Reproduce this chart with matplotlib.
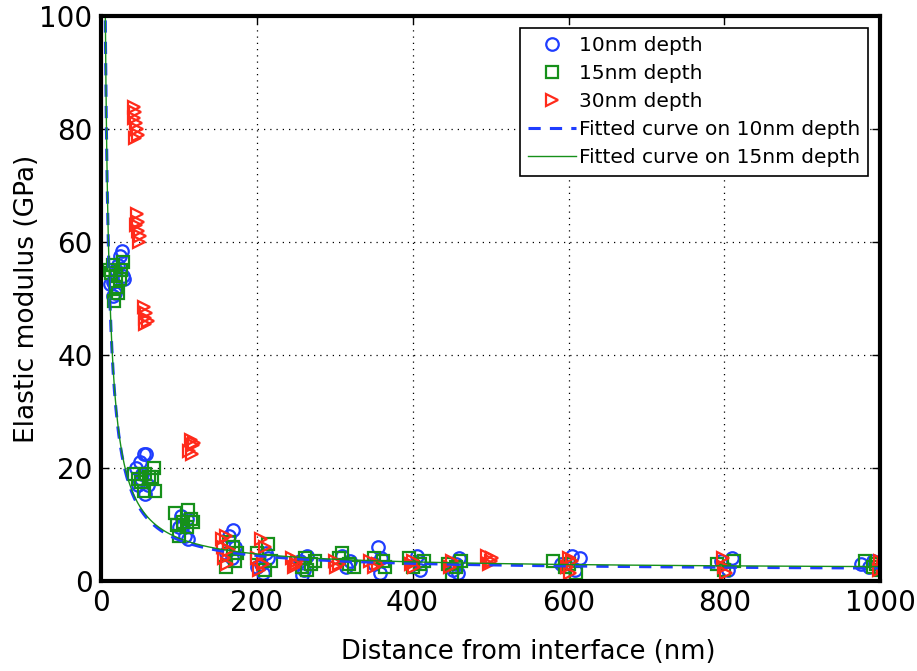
import numpy as np
import matplotlib
matplotlib.use("Agg")
import matplotlib.pyplot as plt

plt.rcParams['font.family'] = ['DejaVu Sans']

# indentation measurements: (distance from interface [nm], modulus [GPa])
d10_x = [12, 15, 18, 20, 22, 25, 27, 28, 16, 30,
         45, 50, 55, 58, 52, 48, 56, 60, 53,
         100, 105, 110, 108, 112, 103,
         165, 170, 172, 168, 160,
         205, 212, 208, 215, 200,
         255, 260, 265, 258,
         310, 315, 320,
         355, 358, 360, 350,
         405, 410, 408,
         452, 455, 458, 460,
         590, 605, 615, 608,
         795, 810, 805,
         975, 985, 990]
d10_E = [52.5, 53, 51, 55, 56, 57.5, 58.5, 54, 50.5, 53.5,
         20, 21, 22.5, 22.5, 18, 17, 15.5, 17, 19,
         9.5, 10, 11, 8, 7.5, 11.5,
         8, 9, 6, 4, 5,
         3, 5, 1.5, 4, 2.5,
         3.5, 2, 4.5, 1,
         4.5, 2.5, 3.5,
         6, 1.5, 4, 3,
         4.5, 2, 3.5,
         2, 3, 1.5, 4,
         3, 4.5, 4, 2,
         3.5, 4, 2,
         3, 2.5, 3.5]

d15_x = [10, 13, 17, 19, 22, 24, 26, 28, 15, 20,
         42, 47, 52, 57, 62, 68, 70, 55, 65,
         95, 100, 105, 110, 115, 118, 112, 98,
         170, 175, 160, 165, 172,
         200, 210, 215, 218,
         262, 270, 265, 275, 258,
         310, 318, 325, 305,
         350, 362, 365,
         395, 410, 415, 400,
         445, 455, 462, 450,
         580, 595, 610, 600,
         790, 800, 812,
         980, 990, 995, 1000]
d15_E = [55, 54.5, 49.5, 52, 51, 53.5, 55, 56.5, 56, 54,
         19, 18, 17.5, 19, 18.5, 20, 16, 16, 18.5,
         12, 8, 10.5, 9.5, 11, 10.5, 12.5, 10,
         6, 5, 2.5, 7, 3.5,
         5, 2, 6.5, 3.5,
         4, 3, 2, 3.5, 2.5,
         5, 3, 2.5, 4,
         4, 3.5, 2.5,
         4, 3, 3.5, 2.5,
         3, 2.5, 3.5, 1,
         3.5, 2.5, 1.5, 3,
         3, 2, 3.5,
         3.5, 2.5, 3, 2]

d30_x = [42, 44, 43, 45, 46, 47, 44,
         46, 48, 47, 50, 49, 45,
         55, 58, 56, 60, 57,
         115, 118, 113, 117, 120,
         155, 160, 158, 162, 157, 165,
         205, 210, 200, 208, 203,
         245, 250, 248, 252,
         300, 305, 302,
         345, 350, 355,
         400, 398, 402,
         450, 448,
         495, 500, 498, 502,
         600, 598, 602, 605,
         798, 800, 802,
         1000, 1003, 998, 1005]
d30_E = [84, 83, 82, 81, 80, 79, 78.5,
         65, 63.5, 62, 61, 60, 63,
         48.5, 47.5, 46.5, 46, 45.5,
         25, 24, 23, 22.5, 24.5,
         7.5, 8, 4, 3, 6, 5.5,
         7.5, 6, 4, 3, 2,
         4, 3, 2.5, 3.5,
         3.5, 3, 2.5,
         3.5, 2.5, 3,
         3.5, 3, 2.5,
         3.5, 2.5,
         4.5, 3.5, 3, 4,
         4, 2.5, 1.5, 3.5,
         4, 2.5, 1.5,
         3.5, 2.5, 2, 3]

# fitted model E = a / x + c
fit10_a, fit10_c = 555.0, 1.75
fit15_a, fit15_c = 560.0, 2.0

blue = '#1f3dff'
green = '#16901a'
red = '#ff2a1a'

fig = plt.figure(figsize=(9.17, 6.71), dpi=100)
ax = fig.add_axes([0.110, 0.134, 0.850, 0.842])

ax.plot(d10_x, d10_E, 'o', ls='none', mfc='none', mec=blue, ms=9, mew=1.6,
        label='10nm depth')
ax.plot(d15_x, d15_E, 's', ls='none', mfc='none', mec=green, ms=8.5, mew=1.6,
        label='15nm depth')
ax.plot(d30_x, d30_E, '>', ls='none', mfc='none', mec=red, ms=9, mew=1.6,
        label='30nm depth')

xf = np.linspace(1, 1000, 2000)
ax.plot(xf, fit10_a / xf + fit10_c, '--', color=blue, lw=2.2, dashes=(4, 3),
        label='Fitted curve on 10nm depth')
ax.plot(xf, fit15_a / xf + fit15_c, '-', color=green, lw=1.0,
        label='Fitted curve on 15nm depth')

ax.set_xlim(0, 1000)
ax.set_ylim(0, 100)
ax.set_xticks([0, 200, 400, 600, 800, 1000])
ax.set_yticks([0, 20, 40, 60, 80, 100])
ax.grid(True, color='black', ls=(0, (1, 4)), lw=0.9)
ax.tick_params(direction='in', top=True, right=True, labelsize=20, length=6,
               width=1, pad=6)
for s in ax.spines.values():
    s.set_linewidth(3)

ax.set_xlabel('Distance from interface (nm)', fontsize=18.5)
ax.set_ylabel('Elastic modulus (GPa)', fontsize=19, labelpad=-0.5)
ax.xaxis.set_label_coords(0.548, -0.103)

leg = ax.legend(loc='upper right', fontsize=14.5, fancybox=False, framealpha=1,
                edgecolor='black', borderaxespad=0.6, handlelength=2.4,
                handletextpad=0.15, labelspacing=0.45, borderpad=0.4)
leg.get_frame().set_linewidth(1.2)

fig.savefig('out.png', dpi=100)
